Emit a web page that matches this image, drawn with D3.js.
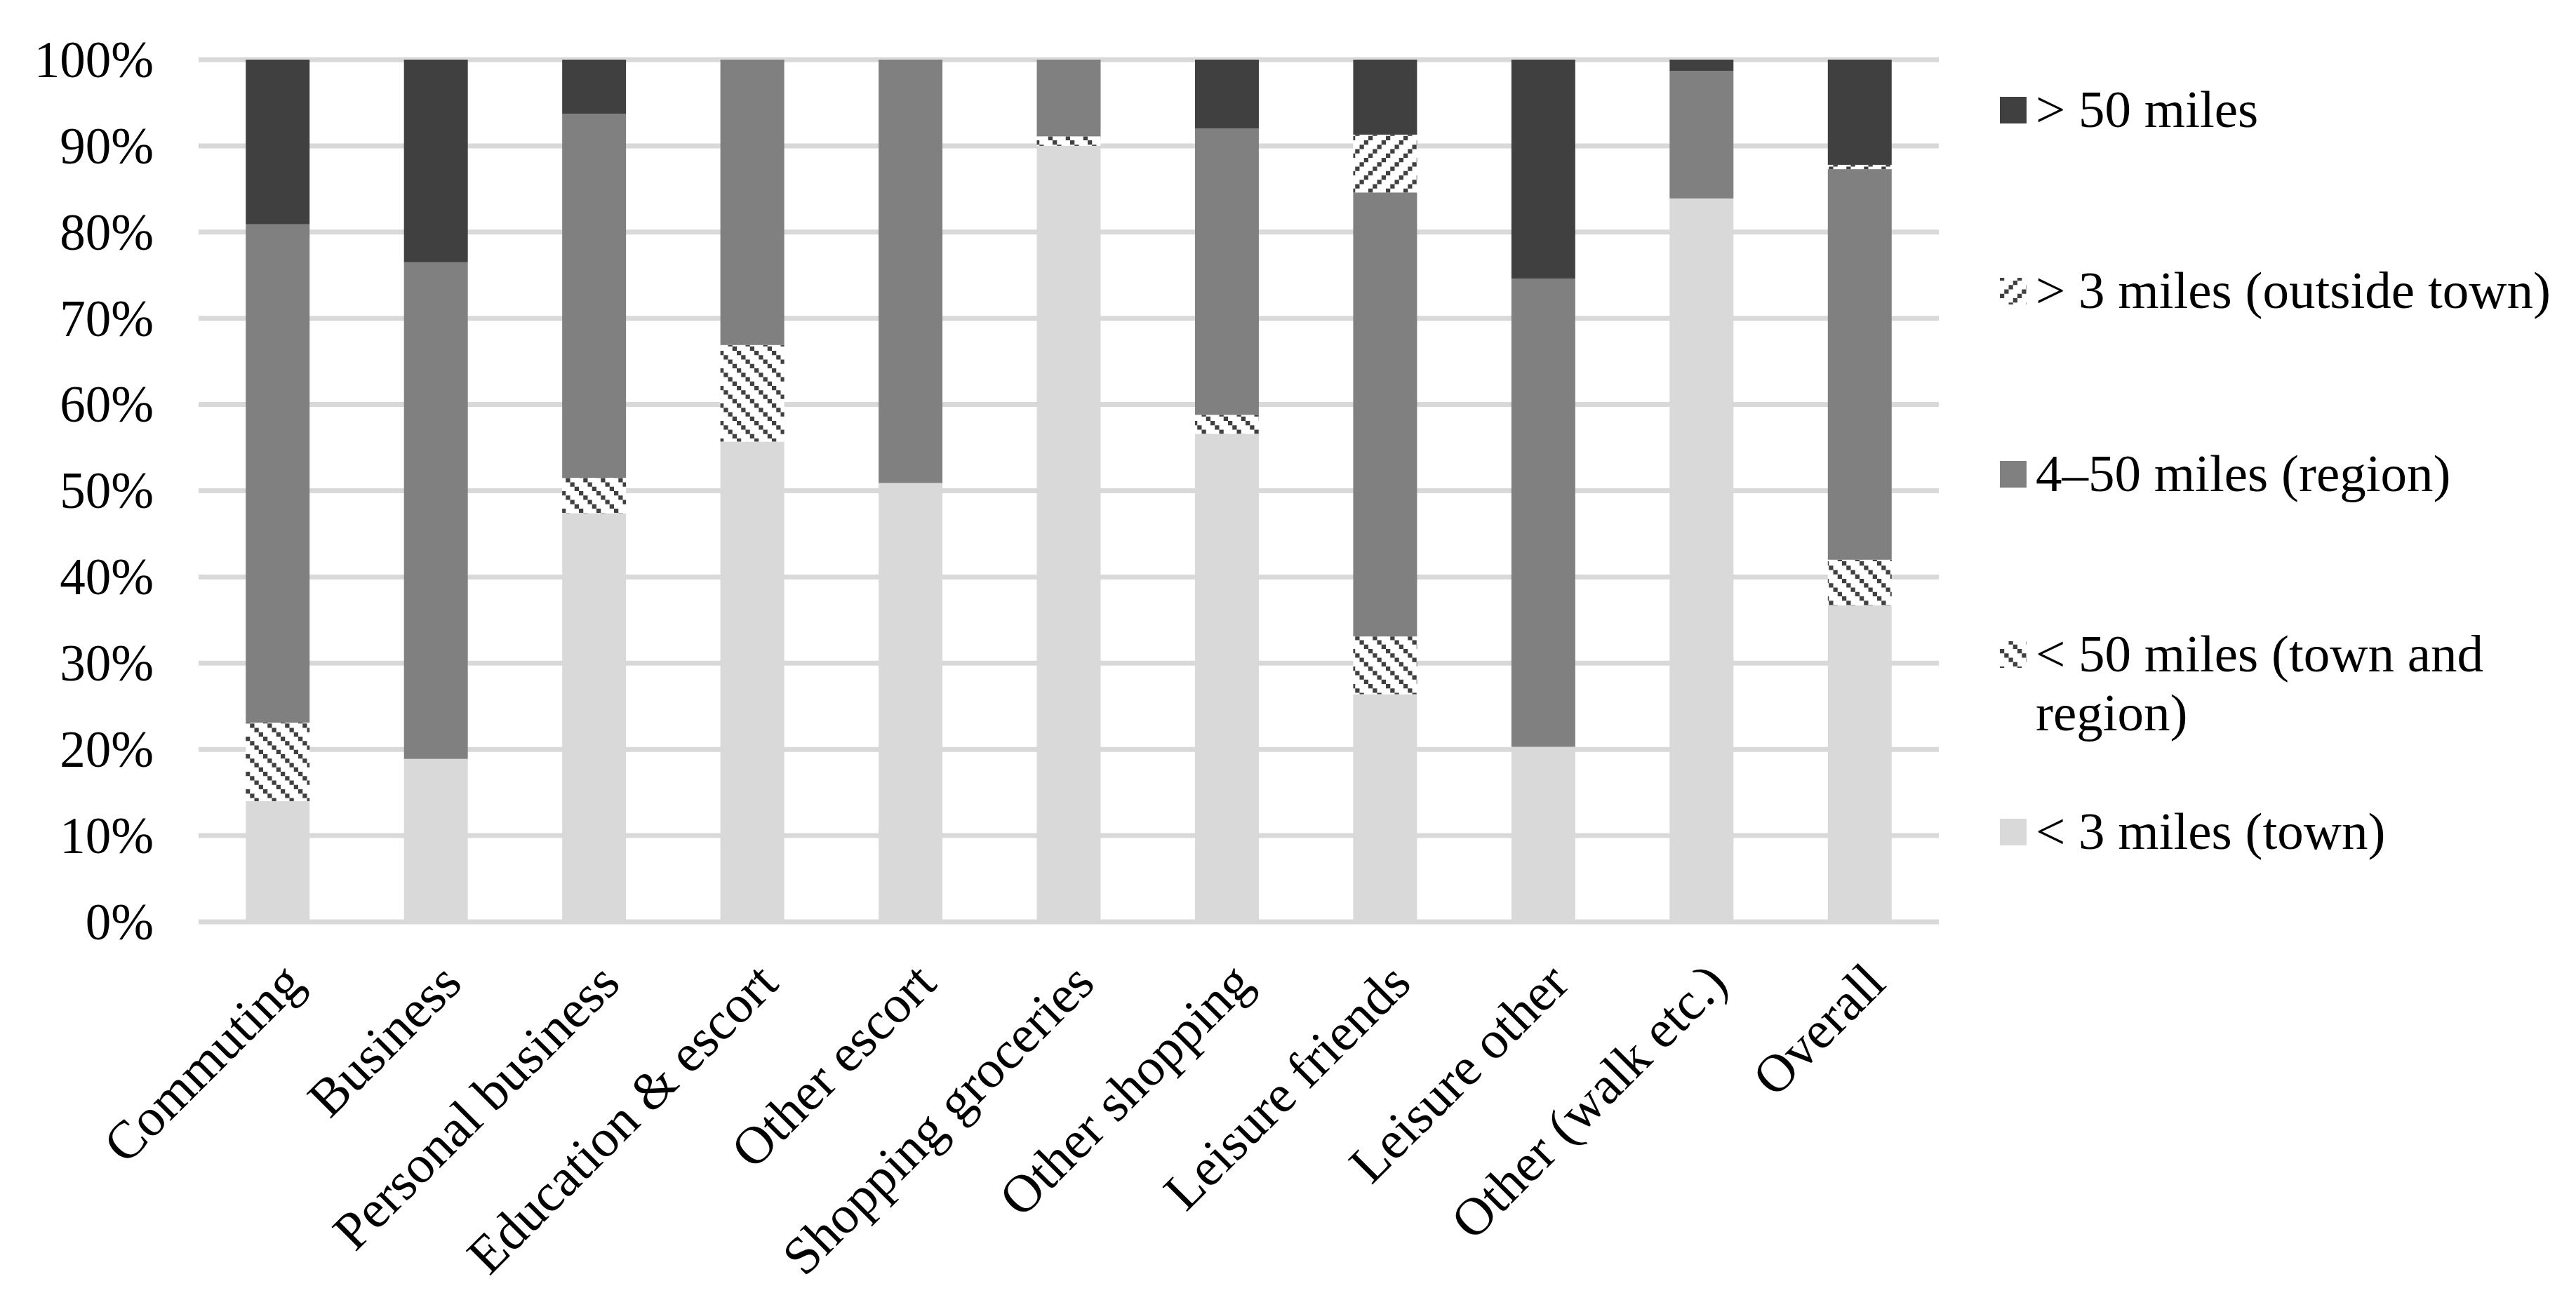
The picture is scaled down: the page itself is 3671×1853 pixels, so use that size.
<!DOCTYPE html>
<html><head><meta charset="utf-8">
<script src="https://cdn.jsdelivr.net/npm/d3@7"></script>
<style>
body{margin:0;background:#fff;}
text{font-family:"Liberation Serif","Times New Roman",serif;fill:#000;}
</style>
</head><body>
<svg id="chart" width="3671" height="1853"></svg>
<script>
// ---- data ----
const categories = ["Commuting","Business","Personal business","Education & escort","Other escort","Shopping groceries","Other shopping","Leisure friends","Leisure other","Other (walk etc.)","Overall"];
const town       = [14.0, 18.9, 47.4, 55.7, 50.9, 90.0, 56.6, 26.4, 20.3, 83.9, 36.7]; // < 3 miles (town)
const townRegion = [ 9.1,  0.0,  4.1, 11.2,  0.0,  1.1,  2.2,  6.7,  0.0,  0.0,  5.3]; // < 50 miles (town and region)
const region     = [57.8, 57.6, 42.2, 33.1, 49.1,  8.9, 33.2, 51.5, 54.3, 14.8, 45.3]; // 4–50 miles (region)
const outside    = [ 0.0,  0.0,  0.0,  0.0,  0.0,  0.0,  0.0,  6.7,  0.0,  0.0,  0.5]; // > 3 miles (outside town)
const far        = [19.1, 23.5,  6.3,  0.0,  0.0,  0.0,  8.0,  8.7, 25.4,  1.3, 12.2]; // > 50 miles
const seriesKeys = ["town","townRegion","region","outside","far"];
const seriesNames = ["< 3 miles (town)", "< 50 miles (town and region)", "4–50 miles (region)", "> 3 miles (outside town)", "> 50 miles"];
const tickValues = [0,10,20,30,40,50,60,70,80,90,100];
const tickLabels = ["0%","10%","20%","30%","40%","50%","60%","70%","80%","90%","100%"];

// ---- build table ----
const seriesArrays = {town, townRegion, region, outside, far};
const rows = categories.map((c,i)=>{
  const r = {category:c};
  seriesKeys.forEach(k=> r[k]=seriesArrays[k][i]);
  return r;
});
const stacked = d3.stack().keys(seriesKeys)(rows);

const fills = {town:"#d9d9d9", townRegion:"url(#hatchDown)", region:"#808080", outside:"url(#hatchUp)", far:"#404040"};

const svg = d3.select("#chart");

const x = d3.scaleBand().domain(categories).range([283, 2763]).paddingInner(0.5965).paddingOuter(0.29825);
const y = d3.scaleLinear().domain([0,100]).range([1314, 85]);

// patterns
const defs = svg.append("defs");
function makePattern(id, cells){
  const p = defs.append("pattern").attr("id",id).attr("patternUnits","userSpaceOnUse")
    .attr("width",25).attr("height",25);
  p.append("rect").attr("width",25).attr("height",25).attr("fill","#fff");
  cells.forEach(([cx,cy])=> p.append("rect").attr("x",cx).attr("y",cy).attr("width",6.25).attr("height",6.25).attr("fill","#404040"));
}
makePattern("hatchDown", [[0,0],[6.25,6.25],[12.5,12.5],[18.75,18.75]]);
makePattern("hatchUp", [[18.75,0],[12.5,6.25],[6.25,12.5],[0,18.75]]);

// gridlines
svg.append("g").selectAll("line").data(tickValues).join("line")
  .attr("x1",283).attr("x2",2763)
  .attr("y1",d=>y(d)).attr("y2",d=>y(d))
  .attr("stroke","#d9d9d9").attr("stroke-width",7);

// y tick labels
svg.append("g").selectAll("text").data(tickValues).join("text")
  .attr("x",219).attr("y",d=>y(d)).attr("dy","0.34em")
  .attr("text-anchor","end").attr("font-size",73)
  .text((d,i)=>tickLabels[i]);

// bars
svg.append("g").selectAll("g").data(stacked).join("g")
  .attr("fill",s=>fills[s.key])
  .selectAll("rect").data(s=>s.filter(d=>d[1]-d[0]>0)).join("rect")
  .attr("x",d=>x(d.data.category))
  .attr("width",x.bandwidth())
  .attr("y",d=>y(d[1]))
  .attr("height",d=>y(d[0])-y(d[1]));

// x labels
svg.append("g").selectAll("text").data(categories).join("text")
  .attr("transform",d=>`translate(${x(d)+x.bandwidth()/2+40},1405) rotate(-45)`)
  .attr("text-anchor","end").attr("font-size",76)
  .text(d=>d);

// legend
const legendItems = [
  {key:"far", lines:["> 50 miles"], base:181},
  {key:"outside", lines:["> 3 miles (outside town)"], base:439},
  {key:"region", lines:["4–50 miles (region)"], base:700},
  {key:"townRegion", lines:["< 50 miles (town and","region)"], base:957},
  {key:"town", lines:["< 3 miles (town)"], base:1210}
];
const lg = svg.append("g");
legendItems.forEach(it=>{
  lg.append("rect").attr("x",2850).attr("y",it.base-43).attr("width",38).attr("height",38).attr("fill",fills[it.key]);
  const t = lg.append("text").attr("x",2901).attr("y",it.base).attr("font-size",75);
  it.lines.forEach((l,i)=> t.append("tspan").attr("x",2901).attr("dy",i===0?0:84).text(l));
});
</script>
</body></html>
